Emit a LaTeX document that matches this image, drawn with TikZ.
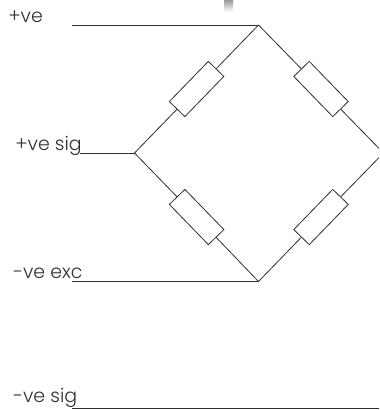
\documentclass[tikz,border=0pt]{standalone}
\usepackage{fontspec}
\setmainfont{Poppins Light}
\definecolor{wire}{HTML}{303030}
\definecolor{labeltext}{HTML}{303030}
\tikzset{
  resistor/.style={draw=wire,line width=0.6pt,fill=white,rectangle,inner sep=0pt,minimum width=42pt,minimum height=16.2pt},
  wireline/.style={draw=wire,line width=0.6pt},
  lead/.style={draw=wire,line width=0.7pt},
  lbl/.style={anchor=base west,inner sep=0pt,text=labeltext,font=\fontsize{14.2pt}{17pt}\selectfont}
}
\begin{document}
\begin{tikzpicture}[x=0.75pt,y=-0.75pt]
\clip (0,0) rectangle (379,410);
\fill[white] (0,0) rectangle (379,410);
\shade[top color=gray!80,bottom color=white] (224,0) rectangle (233,12);
\coordinate (top) at (258.5,25);
\coordinate (left) at (134.5,153);
\coordinate (bottom) at (258.5,281.5);
\coordinate (right) at (383.5,153);
\coordinate (l1) at (72,25);
\coordinate (l2) at (80,153);
\coordinate (l3) at (72,281.5);
\coordinate (l4a) at (72,408.5);
\coordinate (l4b) at (379,408.5);
\node[resistor,rotate=45.9] (r1) at (196.6,89) {};
\node[resistor,rotate=-45.9] (r2) at (321,89) {};
\node[resistor,rotate=-45.9] (r3) at (196.6,217) {};
\node[resistor,rotate=45.9] (r4) at (321,217) {};
\draw[wireline] (top) -- (r1) (r1) -- (left);
\draw[wireline] (top) -- (r2) (r2) -- (right);
\draw[wireline] (left) -- (r3) (r3) -- (bottom);
\draw[wireline] (right) -- (r4) (r4) -- (bottom);
\node[lbl] (t1) at (8,23) {+ve};
\node[lbl] (t2) at (15,150) {+ve sig};
\node[lbl] (t3) at (13,278) {-ve exc};
\node[lbl] (t4) at (13,402.7) {-ve sig};
\draw[lead] (l1) -- (top);
\draw[lead] (l2) -- (left);
\draw[lead] (l3) -- (bottom);
\draw[lead] (l4a) -- (l4b);
\end{tikzpicture}
\end{document}
